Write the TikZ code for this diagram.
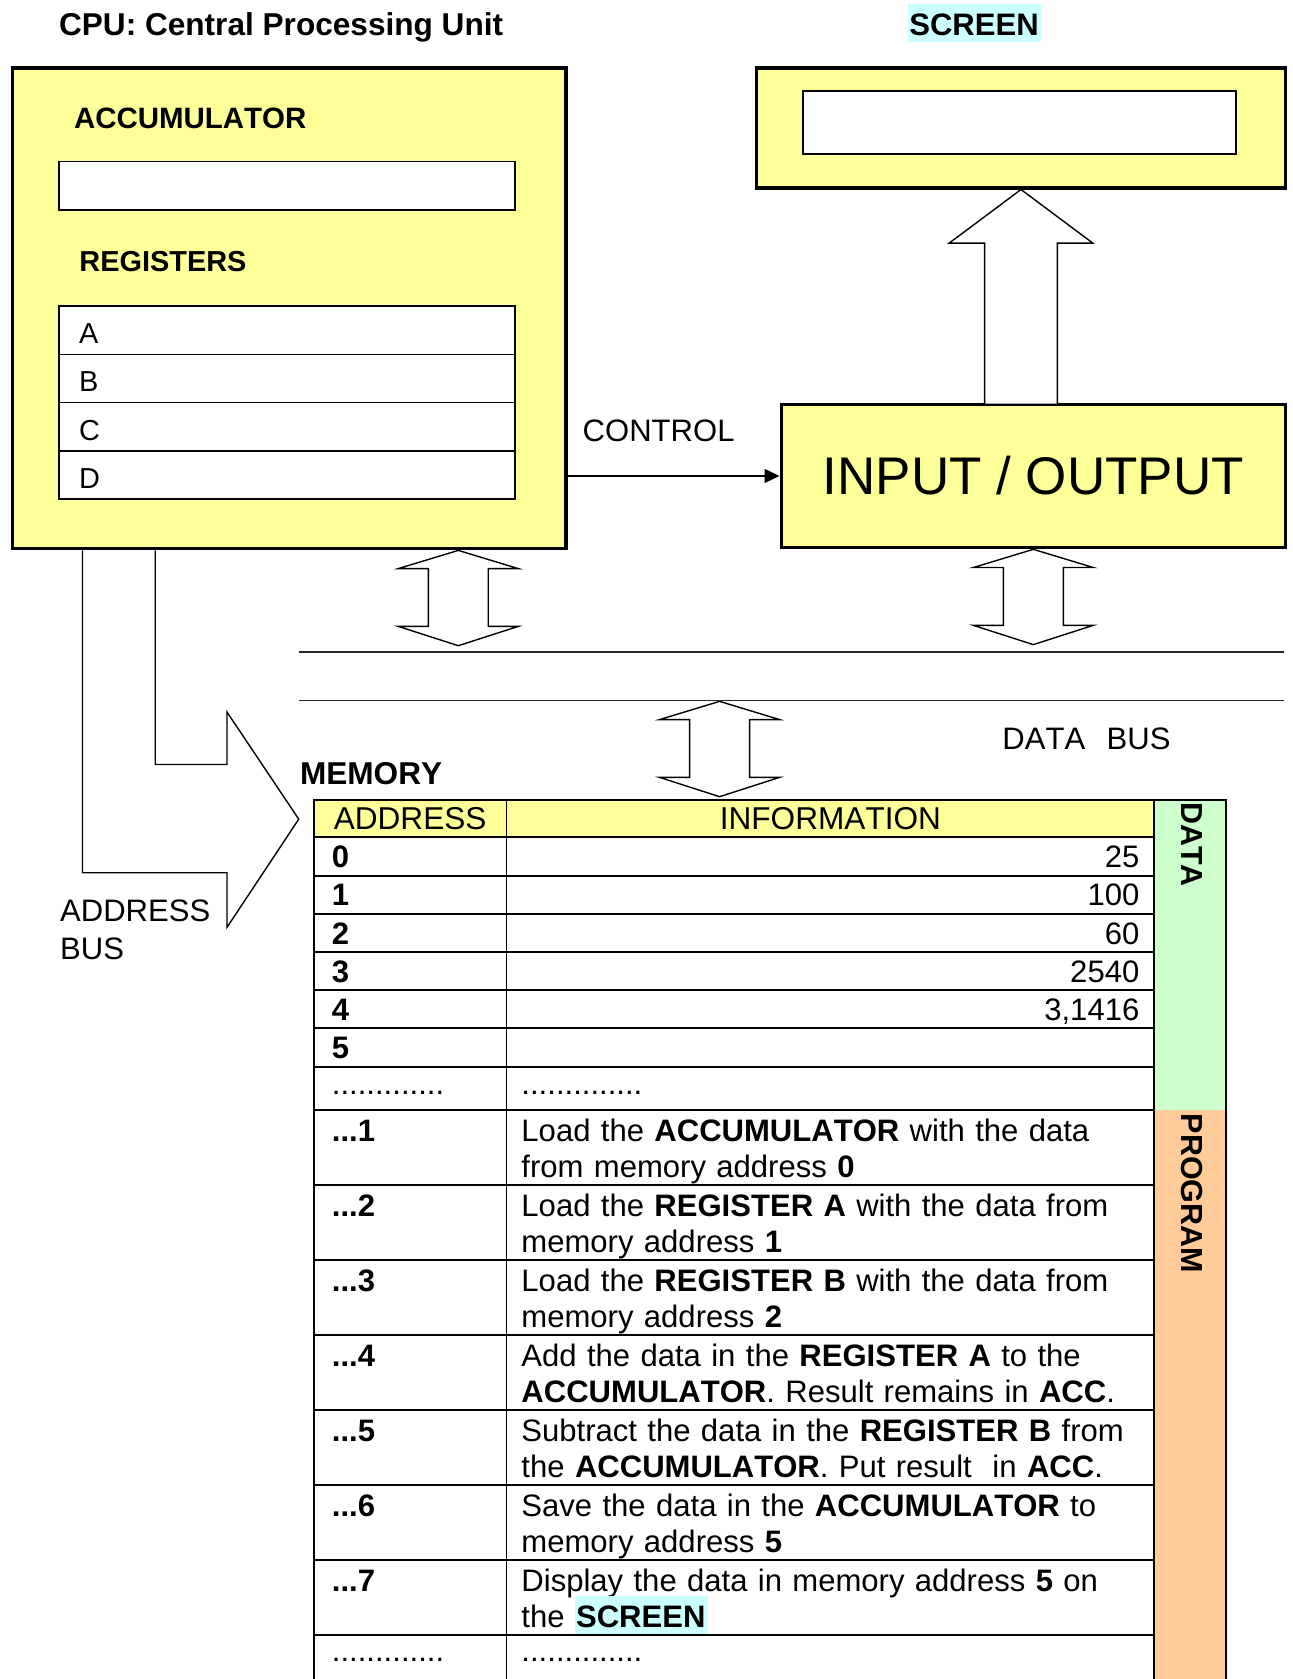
\documentclass[tikz,border=0pt]{standalone}
\usepackage{fontspec}
\setmainfont{Liberation Sans}[Kerning=Off]
\usepackage{xcolor}
\usepackage{tikz}
\usetikzlibrary{arrows.meta, positioning}
\definecolor{cpuyellow}{RGB}{255,255,153}
\definecolor{datagreen}{RGB}{204,255,204}
\definecolor{progorange}{RGB}{255,204,153}
\definecolor{screencyan}{RGB}{204,255,255}
\newcommand{\hlscreen}{\smash{\setlength{\fboxsep}{0pt}\colorbox{screencyan}{\kern1pt\rule[-6pt]{0pt}{35pt}\textbf{SCREEN}\kern2pt}}}

\begin{document}
\begin{tikzpicture}[x=1pt, y=-1pt,
        unit/.style={draw, line width=3pt, fill=cpuyellow, anchor=north west, inner sep=0pt},
        slot/.style={draw, line width=1.5pt, fill=white, anchor=north west, inner sep=0pt, outer sep=0pt, minimum width=426pt, minimum height=45pt},
        regslot/.style={slot, text width=388pt, inner xsep=19pt, align=left, text height=25pt, text depth=0pt, font=\fontsize{27}{32}\selectfont},
        lbl/.style={anchor=base west, inner sep=0pt, font=\fontsize{29}{35}\selectfont},
        blockarrow/.style={draw, line width=1.3pt, fill=white, line join=miter},
        busline/.style={line width=1.3pt, draw=black!85},
        cell/.style={draw, line width=1.8pt, anchor=north west, inner ysep=0pt, outer sep=0pt},
        addrcell/.style={cell, minimum width=180pt, text width=146pt, inner xsep=17pt, align=left, font=\fontsize{29}{33.5}\selectfont\bfseries},
        infocell/.style={cell, minimum width=605pt, text width=577pt, inner xsep=14pt, align=left, font=\fontsize{29}{33.5}\selectfont},
        valcell/.style={infocell, align=right},
        headcell/.style={fill=cpuyellow, align=center, font=\fontsize{29.5}{33.5}\selectfont, minimum height=35pt, text height=21pt, text depth=0pt},
        datarow/.style={minimum height=35.67pt, text height=21pt, text depth=0pt},
        dotrow/.style={minimum height=41pt, text height=11pt, text depth=0pt, font=\fontsize{29}{33.5}\selectfont},
        progrow/.style={minimum height=70pt, text height=29pt, text depth=41pt},
        lastrow/.style={minimum height=60pt, text height=11pt, text depth=21pt, font=\fontsize{29}{33.5}\selectfont},
        sidebar/.style={anchor=north west, minimum width=67pt, inner sep=0pt, outer sep=0pt},
        sidelbl/.style={rotate=-90, anchor=base west, inner sep=0pt, font=\fontsize{28.5}{30}\selectfont\bfseries}
    ]
    \useasboundingbox[fill=white] (0,0) rectangle (1207,1568);

    % CPU
    \node[lbl, font=\fontsize{29.5}{35}\selectfont\bfseries] (cputitle) at (55,33) {CPU: Central Processing Unit};
    \node[unit, minimum width=517pt, minimum height=449pt] (cpu) at (10,62) {};
    \node[lbl, font=\fontsize{27.5}{30}\selectfont\bfseries] (acclbl) at (69,120) {ACCUMULATOR};
    \node[slot] (acc) at (55,151) {};
    \node[lbl, font=\fontsize{27}{30}\selectfont\bfseries] (reglbl) at (74,254) {REGISTERS};
    \node[regslot] (regA) at (55,286) {A};
    \node[regslot, below=0pt of regA] (regB) {B};
    \node[regslot, below=0pt of regB] (regC) {C};
    \node[regslot, below=0pt of regC] (regD) {D};

    % screen and I/O
    \node[lbl] (scrlbl) at (848,33) {\hlscreen};
    \node[unit, minimum width=494pt, minimum height=112pt] (screen) at (705,62) {};
    \node[slot, minimum width=404pt, minimum height=59pt] (display) at (750,85) {};
    \node[unit, minimum width=471pt, minimum height=134pt, font=\fontsize{49.5}{55}\selectfont] (io) at (728,376) {INPUT / OUTPUT};
    \node[lbl] (ctllbl) at (544,412) {CONTROL};
    \draw[line width=1.3pt, -{Triangle[length=14pt, width=13pt]}] (io.west -| cpu.east) -- (io.west);
    \draw[blockarrow] (screen.south) -- ++(67,50) -- ++(-33,0) -- ++(0,150.5) -- ++(-68,0) -- ++(0,-150.5) -- ++(-33,0) -- cycle;

    % data bus
    \draw[busline] (279,609) -- (1199,609);
    \draw[busline] (279,654) -- (1199,654);
    \node[lbl] (buslbl) at (936,700) {DATA\hspace{20pt}BUS};
    \draw[blockarrow] ([xshift=-102pt]cpu.south east) -- ++(56,17) -- ++(-28,0) -- ++(0,54) -- ++(28,0) -- ++(-56,18) -- ++(-56,-18) -- ++(28,0) -- ++(0,-54) -- ++(-28,0) -- cycle;
    \draw[blockarrow] (io.south) -- ++(56,17) -- ++(-28,0) -- ++(0,54) -- ++(28,0) -- ++(-56,18) -- ++(-56,-18) -- ++(28,0) -- ++(0,-54) -- ++(-28,0) -- cycle;
    \draw[blockarrow] (672,655) -- ++(56,17) -- ++(-28,0) -- ++(0,54) -- ++(28,0) -- ++(-56,18) -- ++(-56,-18) -- ++(28,0) -- ++(0,-54) -- ++(-28,0) -- cycle;

    % address bus
    \draw[blockarrow, fill=none] ([xshift=67pt]cpu.south west) -- ++(0,301) -- ++(135,0) -- ++(0,51) -- ++(67,-101) -- ++(-67,-100) -- ++(0,49) -- ++(-67,0) -- ++(0,-200);
    \node[lbl, text width=160pt, align=left, font=\fontsize{29}{35.5}\selectfont] (addrbus) at (56,861) {ADDRESS\\BUS};

    % memory
    \node[lbl, font=\fontsize{29.5}{35}\selectfont\bfseries] (memlbl) at (280,733) {MEMORY};
    \node[sidebar, fill=datagreen, minimum height=290pt] (dataside) at (1078,747) {};
    \node[sidebar, fill=progorange, minimum height=560pt] (progside) at (dataside.south west) {};
    \draw[line width=1.8pt] (progside.south east) -- (dataside.north east) -- (dataside.north west);
    \node[sidelbl] (datalbl) at (1103,749) {DATA};
    \node[sidelbl] (proglbl) at (1103,1040) {PROGRAM};

    \node[addrcell, headcell] (addrhead) at (293,747) {ADDRESS};
    \node[infocell, headcell, right=0pt of addrhead] (infohead) {INFORMATION};
    \node[addrcell, datarow, below=0pt of addrhead] (addr0) {0};
    \node[valcell, datarow, right=0pt of addr0] (info0) {25};
    \node[addrcell, datarow, below=0pt of addr0] (addr1) {1};
    \node[valcell, datarow, right=0pt of addr1] (info1) {100};
    \node[addrcell, datarow, below=0pt of addr1] (addr2) {2};
    \node[valcell, datarow, right=0pt of addr2] (info2) {60};
    \node[addrcell, datarow, below=0pt of addr2] (addr3) {3};
    \node[valcell, datarow, right=0pt of addr3] (info3) {2540};
    \node[addrcell, datarow, below=0pt of addr3] (addr4) {4};
    \node[valcell, datarow, right=0pt of addr4] (info4) {3,1416};
    \node[addrcell, datarow, below=0pt of addr4] (addr5) {5};
    \node[valcell, datarow, right=0pt of addr5] (info5) {};
    \node[addrcell, dotrow, below=0pt of addr5] (addrdots) {.............};
    \node[infocell, dotrow, right=0pt of addrdots] (infodots) {..............};

    \node[addrcell, progrow, below=0pt of addrdots] (addrp1) {...1};
    \node[infocell, progrow, right=0pt of addrp1] (infop1) {Load the \textbf{ACCUMULATOR} with the data\\from memory address \textbf{0}};
    \node[addrcell, progrow, below=0pt of addrp1] (addrp2) {...2};
    \node[infocell, progrow, right=0pt of addrp2] (infop2) {Load the \textbf{REGISTER A} with the data from\\memory address \textbf{1}};
    \node[addrcell, progrow, below=0pt of addrp2] (addrp3) {...3};
    \node[infocell, progrow, right=0pt of addrp3] (infop3) {Load the \textbf{REGISTER B} with the data from\\memory address \textbf{2}};
    \node[addrcell, progrow, below=0pt of addrp3] (addrp4) {...4};
    \node[infocell, progrow, right=0pt of addrp4] (infop4) {Add the data in the \textbf{REGISTER A} to the\\\textbf{ACCUMULATOR}. Result remains in \textbf{ACC}.};
    \node[addrcell, progrow, below=0pt of addrp4] (addrp5) {...5};
    \node[infocell, progrow, right=0pt of addrp5] (infop5) {Subtract the data in the \textbf{REGISTER B} from\\the \textbf{ACCUMULATOR}. Put result~ in \textbf{ACC}.};
    \node[addrcell, progrow, below=0pt of addrp5] (addrp6) {...6};
    \node[infocell, progrow, right=0pt of addrp6] (infop6) {Save the data in the \textbf{ACCUMULATOR} to\\memory address \textbf{5}};
    \node[addrcell, progrow, below=0pt of addrp6] (addrp7) {...7};
    \node[infocell, progrow, right=0pt of addrp7] (infop7) {Display the data in memory address \textbf{5} on\\the \hlscreen};
    \node[addrcell, lastrow, below=0pt of addrp7] (addrend) {.............};
    \node[infocell, lastrow, right=0pt of addrend] (infoend) {..............};
\end{tikzpicture}
\end{document}
